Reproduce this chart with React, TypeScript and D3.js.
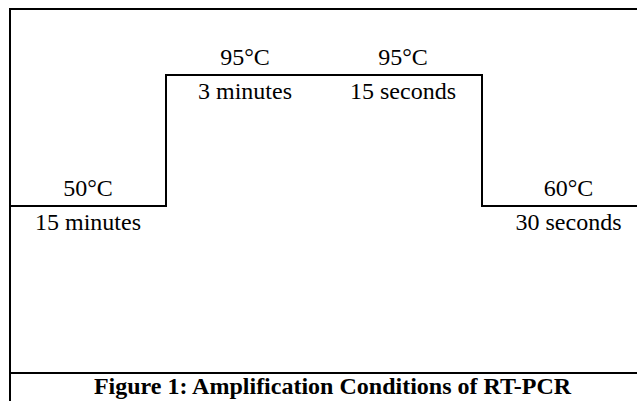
import React from 'react';
import * as d3 from 'd3';

// step profile of the RT-PCR program
const temps = ['50°C', '95°C', '95°C', '60°C'];
const durations = ['15 minutes', '3 minutes', '15 seconds', '30 seconds'];
const levels = [0, 1, 1, 0]; // 0 = low hold, 1 = denaturation
const caption = 'Figure 1: Amplification Conditions of RT-PCR';

const width = 637;
const height = 401;
const frame = { left: 10, right: 655, top: 9, bottom: 373 };
const font = "'Liberation Serif', 'Times New Roman', serif";

export default function App() {
  const x = d3.scaleLinear().domain([0, temps.length]).range([8, 640]);
  const y = d3.scaleLinear().domain([0, 1]).range([206, 75]);

  // segment edges: inner edges from the scale, outer ones clamp to the frame
  const edges = temps.map((_, i) => [
    i === 0 ? frame.left : x(i),
    i === temps.length - 1 ? frame.right : x(i + 1),
  ]);

  const pts: [number, number][] = levels.map((l, i) => [edges[i][0], y(l)]);
  pts.push([frame.right, y(levels[levels.length - 1])]);

  const line = d3.line().curve(d3.curveStepAfter);

  return (
    <div style={{ position: 'absolute', left: 0, top: 0 }}>
      <svg width={width} height={height} style={{ display: 'block', background: '#fff' }}>
        {/* table frame */}
        <line x1={frame.left} x2={frame.right} y1={frame.top} y2={frame.top} stroke="#000" strokeWidth={2} />
        <line x1={frame.left} x2={frame.left} y1={frame.top - 1} y2={height + 5} stroke="#000" strokeWidth={2} />
        <line x1={frame.left} x2={frame.right} y1={frame.bottom} y2={frame.bottom} stroke="#000" strokeWidth={2} />

        <path d={line(pts) || ''} fill="none" stroke="#000" strokeWidth={2} />

        <g fontFamily={font} fontSize={24} textAnchor="middle" fill="#000">
          {temps.map((t, i) => {
            const cx = (edges[i][0] + edges[i][1]) / 2;
            const ly = y(levels[i]);
            return (
              <g key={i}>
                <text x={cx} y={ly - 10}>{t}</text>
                <text x={cx} y={ly + 24}>{durations[i]}</text>
              </g>
            );
          })}
        </g>

        <text
          x={(frame.left + frame.right) / 2}
          y={394}
          fontFamily={font}
          fontSize={24}
          fontWeight="bold"
          textAnchor="middle"
        >
          {caption}
        </text>
      </svg>
    </div>
  );
}
